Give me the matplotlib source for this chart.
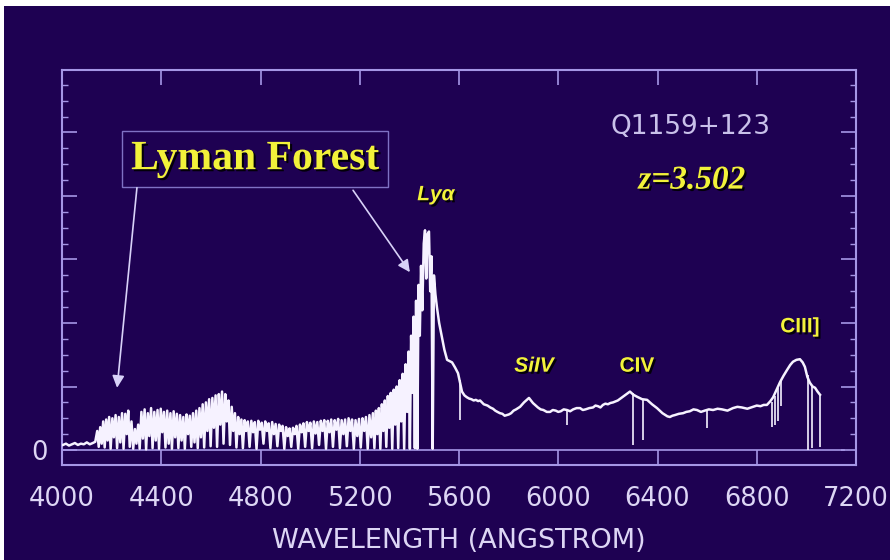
import matplotlib
matplotlib.use('Agg')
import matplotlib.pyplot as plt
import matplotlib.patheffects as pe
from matplotlib.patches import Rectangle
from matplotlib.ticker import MultipleLocator

# colours
BG = '#1e0152'
FRAME = '#a596e6'
LABEL = '#ddd6f5'
YELLOW = '#f2f23a'
SPEC = '#f6f2ff'

# spectrum of Q1159+123 (flux in arbitrary units)
wave = [
    4004, 4016, 4028, 4040, 4052, 4064, 4076, 4088, 4100, 4112, 4124, 4134,
    4142, 4148, 4154, 4160, 4166, 4172, 4178, 4184, 4190, 4196, 4203, 4209,
    4216, 4222, 4229, 4235, 4242, 4248, 4255, 4261, 4267, 4273, 4280, 4287,
    4294, 4300, 4307, 4313, 4320, 4326, 4333, 4339, 4346, 4352, 4359, 4365,
    4372, 4378, 4385, 4391, 4398, 4404, 4411, 4417, 4424, 4430, 4437, 4443,
    4450, 4456, 4463, 4469, 4476, 4482, 4489, 4495, 4502, 4508, 4515, 4521,
    4528, 4534, 4541, 4547, 4554, 4560, 4567, 4573, 4580, 4586, 4593, 4599,
    4606, 4612, 4619, 4625, 4632, 4638, 4645, 4651, 4658, 4664, 4671, 4677,
    4684, 4690, 4697, 4703, 4710, 4716, 4723, 4729, 4736, 4742, 4749, 4756,
    4763, 4770, 4777, 4784, 4791, 4798, 4805, 4812, 4819, 4826, 4833, 4840,
    4847, 4854, 4861, 4868, 4875, 4882, 4889, 4896, 4903, 4910, 4917, 4924,
    4931, 4938, 4945, 4952, 4959, 4966, 4973, 4980, 4987, 4994, 5001, 5008,
    5015, 5022, 5029, 5036, 5043, 5050, 5057, 5064, 5071, 5078, 5085, 5092,
    5099, 5106, 5113, 5120, 5127, 5134, 5141, 5148, 5155, 5162, 5169, 5176,
    5183, 5190, 5197, 5204, 5211, 5218, 5225, 5232, 5239, 5246, 5253, 5259,
    5265, 5271, 5277, 5283, 5289, 5295, 5301, 5307, 5313, 5319, 5325, 5331,
    5337, 5343, 5349, 5355, 5361, 5367, 5373, 5379, 5385, 5391, 5397, 5402,
    5407, 5412, 5417, 5422, 5427, 5432, 5437, 5442, 5447, 5452, 5458, 5463,
    5468, 5473, 5479, 5484, 5489, 5494, 5499, 5505, 5511, 5520, 5531, 5541,
    5552, 5562, 5572, 5584, 5596, 5612, 5622, 5632, 5641, 5650, 5659, 5668,
    5677, 5685, 5700, 5715, 5726, 5737, 5746, 5755, 5765, 5775, 5784, 5793,
    5801, 5810, 5820, 5830, 5846, 5862, 5882, 5898, 5918, 5929, 5940, 5954,
    5967, 5978, 5990, 6000, 6010, 6022, 6035, 6048, 6060, 6074, 6088, 6099,
    6110, 6125, 6140, 6150, 6160, 6170, 6180, 6190, 6200, 6210, 6221, 6240,
    6261, 6275, 6289, 6303, 6317, 6338, 6358, 6378, 6398, 6420, 6440, 6450,
    6460, 6470, 6486, 6503, 6516, 6530, 6545, 6559, 6575, 6590, 6607, 6624,
    6642, 6660, 6682, 6704, 6722, 6740, 6762, 6785, 6800, 6815, 6828, 6841,
    6855, 6866, 6880, 6894, 6908, 6922, 6935, 6946, 6960, 6974, 6985, 6994,
    7004, 7014, 7025, 7035, 7045, 7055,
]
flux = [
    0.08, 0.10, 0.07, 0.09, 0.11, 0.08, 0.10, 0.09, 0.12, 0.09, 0.11, 0.13,
    0.30, 0.05, 0.36, 0.10, 0.45, 0.04, 0.48, 0.15, 0.52, 0.02, 0.50, 0.20,
    0.55, 0.03, 0.52, 0.12, 0.58, 0.02, 0.57, 0.25, 0.62, 0.05, 0.45, 0.02,
    0.33, 0.10, 0.40, 0.02, 0.60, 0.18, 0.64, 0.01, 0.58, 0.22, 0.66, 0.03,
    0.60, 0.15, 0.63, 0.02, 0.65, 0.28, 0.60, 0.04, 0.62, 0.10, 0.58, 0.02,
    0.61, 0.20, 0.57, 0.03, 0.55, 0.15, 0.52, 0.02, 0.56, 0.25, 0.54, 0.05,
    0.58, 0.12, 0.62, 0.03, 0.66, 0.20, 0.72, 0.04, 0.75, 0.30, 0.80, 0.06,
    0.82, 0.35, 0.86, 0.05, 0.88, 0.40, 0.92, 0.10, 0.88, 0.45, 0.78, 0.08,
    0.68, 0.30, 0.58, 0.04, 0.52, 0.25, 0.48, 0.03, 0.47, 0.30, 0.45, 0.05,
    0.46, 0.28, 0.44, 0.02, 0.46, 0.32, 0.43, 0.10, 0.45, 0.30, 0.42, 0.03,
    0.44, 0.25, 0.41, 0.06, 0.40, 0.30, 0.38, 0.02, 0.36, 0.22, 0.34, 0.05,
    0.35, 0.25, 0.38, 0.02, 0.40, 0.28, 0.42, 0.05, 0.44, 0.30, 0.43, 0.03,
    0.45, 0.26, 0.44, 0.08, 0.46, 0.30, 0.47, 0.02, 0.46, 0.28, 0.48, 0.05,
    0.47, 0.32, 0.49, 0.03, 0.47, 0.25, 0.48, 0.06, 0.50, 0.30, 0.48, 0.02,
    0.47, 0.22, 0.49, 0.04, 0.50, 0.30, 0.52, 0.02, 0.55, 0.20, 0.58, 0.03,
    0.62, 0.25, 0.66, 0.02, 0.72, 0.30, 0.78, 0.05, 0.85, 0.35, 0.90, 0.02,
    0.95, 0.40, 1.00, 0.03, 1.10, 0.45, 1.20, 0.02, 1.35, 0.60, 1.55, 0.02,
    1.80, 0.90, 2.10, 0.03, 2.35, 0.02, 2.60, 1.80, 2.90, 2.20, 3.25, 3.46,
    2.70, 3.40, 3.44, 2.50, 3.05, 0.02, 2.75, 2.45, 2.25, 2.00, 1.78, 1.58,
    1.42, 1.40, 1.38, 1.30, 1.21, 0.92, 0.86, 0.83, 0.81, 0.80, 0.78, 0.79,
    0.77, 0.78, 0.72, 0.70, 0.67, 0.65, 0.62, 0.60, 0.58, 0.57, 0.54, 0.55,
    0.56, 0.58, 0.62, 0.64, 0.68, 0.75, 0.82, 0.74, 0.67, 0.64, 0.63, 0.60,
    0.60, 0.63, 0.62, 0.60, 0.61, 0.64, 0.63, 0.61, 0.64, 0.66, 0.66, 0.63,
    0.64, 0.66, 0.67, 0.70, 0.69, 0.67, 0.71, 0.73, 0.72, 0.74, 0.75, 0.78,
    0.84, 0.88, 0.92, 0.87, 0.84, 0.80, 0.79, 0.72, 0.66, 0.58, 0.53, 0.52,
    0.54, 0.55, 0.57, 0.58, 0.60, 0.61, 0.64, 0.63, 0.60, 0.62, 0.64, 0.63,
    0.65, 0.64, 0.62, 0.66, 0.68, 0.67, 0.65, 0.68, 0.70, 0.69, 0.71, 0.71,
    0.77, 0.83, 0.95, 1.07, 1.17, 1.26, 1.34, 1.39, 1.42, 1.43, 1.38, 1.31,
    1.15, 1.06, 1.00, 0.98, 0.92, 0.87,
]

# narrow absorption lines redward of Ly-alpha
abs_wave = [5606, 6035, 6301, 6341, 6600, 6862, 6873, 6885, 6898, 7006, 7022, 7055]
abs_top = [1.10, 0.63, 0.90, 0.80, 0.63, 0.75, 0.85, 0.98, 1.10, 1.18, 1.02, 0.87]
abs_bot = [0.47, 0.39, 0.08, 0.16, 0.35, 0.36, 0.40, 0.45, 0.70, 0.00, 0.03, 0.05]

# emission line labels
line_names = ['Ly\u03b1', 'SiIV', 'CIV', 'CIII]']
line_x = [5507, 5902, 6317, 6974]
line_y = [4.02, 1.32, 1.32, 1.94]
line_style = ['italic', 'italic', 'normal', 'normal']

x_ticks = [4000, 4400, 4800, 5200, 5600, 6000, 6400, 6800, 7200]
zero_end = 7150

fig = plt.figure(figsize=(8.9, 5.6), dpi=100, facecolor='white')
# dark slide background (thin white margin top/left like the scan)
fig.patches.append(Rectangle((4 / 890, 0), 886 / 890, 554 / 560,
                             transform=fig.transFigure, facecolor=BG,
                             edgecolor='none', zorder=-5))
ax = fig.add_axes([62 / 890, 95 / 560, 794 / 890, 395 / 560])
ax.set_facecolor(BG)

# zero level line
ax.plot([4000, zero_end], [0, 0], color=FRAME, lw=1.2, zorder=1)
# the spectrum
ax.plot(wave, flux, color=SPEC, lw=1.8, solid_joinstyle='round', zorder=3)
ax.vlines(abs_wave, abs_bot, abs_top, color=SPEC, lw=1.2, zorder=3)

ax.set_xlim(4000, 7200)
ax.set_ylim(-0.236, 5.984)

for s in ax.spines.values():
    s.set_color(FRAME)
    s.set_linewidth(1.5)

ax.set_xticks(x_ticks)
ax.set_xticklabels([str(t) for t in x_ticks])
ax.set_yticks([0, 1, 2, 3, 4, 5])
ax.set_yticklabels(['0', '', '', '', '', ''])
ax.yaxis.set_minor_locator(MultipleLocator(0.25))
ax.tick_params(which='both', direction='in', color=FRAME, top=True, right=True)
ax.tick_params(which='major', length=11, width=1.2)
ax.tick_params(which='minor', length=4.5, width=1.0)
ax.tick_params(axis='x', labelsize=18.5, labelcolor=LABEL, pad=15)
ax.tick_params(axis='y', labelsize=18.5, labelcolor=LABEL, pad=10)
ax.set_xlabel('WAVELENGTH (ANGSTROM)', fontsize=19.5, color=LABEL, labelpad=12)

shadow = [pe.withSimplePatchShadow(offset=(1.5, -1.5), shadow_rgbFace='black', alpha=0.9)]

# object name and redshift
ax.text(6531, 5.09, 'Q1159+123', ha='center', va='center', fontsize=19,
        color='#c9c1ea')
ax.text(6539, 4.25, 'z=3.502', ha='center', va='center', fontsize=24,
        family='Liberation Serif', fontweight='bold', style='italic',
        color=YELLOW, path_effects=shadow)

# emission line labels
for name, lx, ly, st in zip(line_names, line_x, line_y, line_style):
    ax.text(lx, ly, name, ha='center', va='center', fontsize=15,
            family='Liberation Sans', fontweight='bold', style=st,
            color=YELLOW, path_effects=shadow)

# Lyman forest callout
ax.text(4778, 4.58, 'Lyman Forest', ha='center', va='center', fontsize=30,
        family='Liberation Serif', fontweight='bold', color=YELLOW,
        path_effects=shadow,
        bbox=dict(boxstyle='square,pad=0.22', facecolor='none',
                  edgecolor='#7f72c4', linewidth=1.0))
arrow = dict(arrowstyle='-|>', color='#d8d2f8', lw=1.2, mutation_scale=18,
             shrinkA=0, shrinkB=0)
ax.annotate('', xy=(4222, 0.98), xytext=(4302, 4.13), arrowprops=arrow)
ax.annotate('', xy=(5402, 2.80), xytext=(5173, 4.09), arrowprops=arrow)

fig.savefig('out.png', dpi=100, facecolor=fig.get_facecolor())
